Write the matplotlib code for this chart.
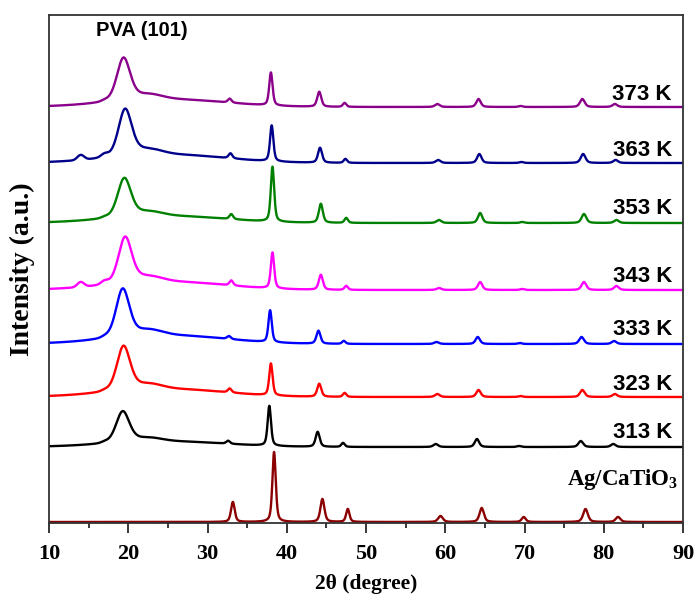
import numpy as np
import matplotlib
matplotlib.use("Agg")
import matplotlib.pyplot as plt
from matplotlib.ticker import MultipleLocator

plt.rcParams['mathtext.fontset'] = 'custom'
plt.rcParams['mathtext.bf'] = 'Liberation Serif:bold'
plt.rcParams['mathtext.rm'] = 'Liberation Serif:bold'

# Samples, bottom to top of the stack
labels = [r'Ag/CaTiO$_\mathbf{3}$', '313 K', '323 K', '333 K', '343 K', '353 K', '363 K', '373 K']
colors = ['#8b0000', '#000000', '#ff0000', '#0000ff', '#ff00ff', '#008000', '#00008b', '#8b008b']

# vertical offset of each pattern (a.u.)
offsets = [1, 76, 126, 179, 233, 300, 360, 416]

# PVA (101) reflection: position and height above baseline
pva_pos = [19.4, 19.3, 19.4, 19.3, 19.6, 19.5, 19.6, 19.4]
pva_height = [0, 40, 57, 62, 59, 50, 60, 55]

# weak low-angle features at ~14 and ~17 degrees
low_pos = [14.0, 17.0]
low_height = [
    [0, 0],
    [0, 1],
    [0, 1],
    [0, 1],
    [5, 3],
    [0, 1],
    [5, 3],
    [0, 1],
]

# Ag / CaTiO3 crystalline reflections
peak_pos = [32.9, 38.1, 44.2, 47.4, 59.1, 64.3, 69.6, 77.4, 81.5]
peak_fwhm = [0.55, 0.5, 0.6, 0.5, 0.7, 0.65, 0.6, 0.7, 0.7]
peak_shift = [0.3, -0.3, -0.1, -0.2, 0.1, 0.1, 0.0, -0.1]
peak_height = [
    [20, 70, 23, 13, 6, 14, 5, 13, 5],
    [3, 40, 15, 4, 3, 8, 1, 6, 3],
    [4, 32, 13, 4, 3, 7, 1, 7, 3],
    [3, 32, 13, 3, 2, 7, 1, 7, 3],
    [5, 36, 15, 4, 2, 8, 1, 8, 4],
    [5, 55, 19, 5, 3, 10, 1, 9, 3],
    [5, 36, 15, 4, 3, 9, 1, 9, 3],
    [4, 33, 15, 4, 3, 8, 1, 8, 3],
]

# label anchor heights above each baseline
label_rise = [30, 4, 2, 4, 3, 4, 2, 2]


def pseudo_voigt(x, c, w, eta=0.5):
    g = np.exp(-4 * np.log(2) * (x - c) ** 2 / w ** 2)
    l = 1.0 / (1.0 + 4 * (x - c) ** 2 / w ** 2)
    return eta * l + (1 - eta) * g


def gauss(x, c, w):
    return np.exp(-4 * np.log(2) * (x - c) ** 2 / w ** 2)


tt = np.linspace(10, 90, 4001)

fig = plt.figure(figsize=(6.94, 5.96), dpi=100)
ax = fig.add_axes([49 / 694, 73 / 596, 634 / 694, 508 / 596])

for i in range(len(labels)):
    h = pva_height[i]
    y = np.zeros_like(tt)
    if h > 0:
        # main PVA peak + shoulder + amorphous hump
        y += 0.78 * h * pseudo_voigt(tt, pva_pos[i], 2.0, 0.35)
        y += 0.09 * h * gauss(tt, 22.5, 4.0)
        y += 0.14 * h * gauss(tt, 25.0, 17.0)
    for p, a in zip(low_pos, low_height[i]):
        y += a * gauss(tt, p, 1.0)
    for p, w, a in zip(peak_pos, peak_fwhm, peak_height[i]):
        y += a * pseudo_voigt(tt, p + peak_shift[i], w, 0.5)
    ax.plot(tt, y + offsets[i], color=colors[i], lw=1.7)

    if i == 0:
        ax.text(89.4, offsets[i] + label_rise[i], labels[i], ha='right', va='bottom',
                fontsize=16.5, fontweight='bold', family='Liberation Serif')
    else:
        ax.text(88.6, offsets[i] + label_rise[i], labels[i], ha='right', va='bottom',
                fontsize=16, fontweight='bold', family='Liberation Sans')

ax.text(21.7, 492, 'PVA (101)', ha='center', va='center', fontsize=14.5,
        fontweight='bold', family='Liberation Sans')

ax.set_xlim(10, 90)
ax.set_ylim(0, 508)
ax.set_yticks([])
ax.xaxis.set_major_locator(MultipleLocator(10))
ax.xaxis.set_minor_locator(MultipleLocator(5))
ax.tick_params(axis='x', which='major', direction='out', length=7, width=1.1,
               labelsize=16, pad=8)
ax.tick_params(axis='x', which='minor', direction='out', length=3.5, width=1.1)
for lab in ax.get_xticklabels():
    lab.set_family('Liberation Serif')
    lab.set_fontweight('bold')
for s in ax.spines.values():
    s.set_linewidth(1.3)
    s.set_color('#333333')

ax.set_xlabel('2θ (degree)', fontsize=15.5, fontweight='bold', family='Liberation Serif',
              labelpad=7)
ax.set_ylabel('Intensity (a.u.)', fontsize=20, fontweight='bold', family='Liberation Serif',
              labelpad=10)

fig.savefig('out.png', dpi=100)
